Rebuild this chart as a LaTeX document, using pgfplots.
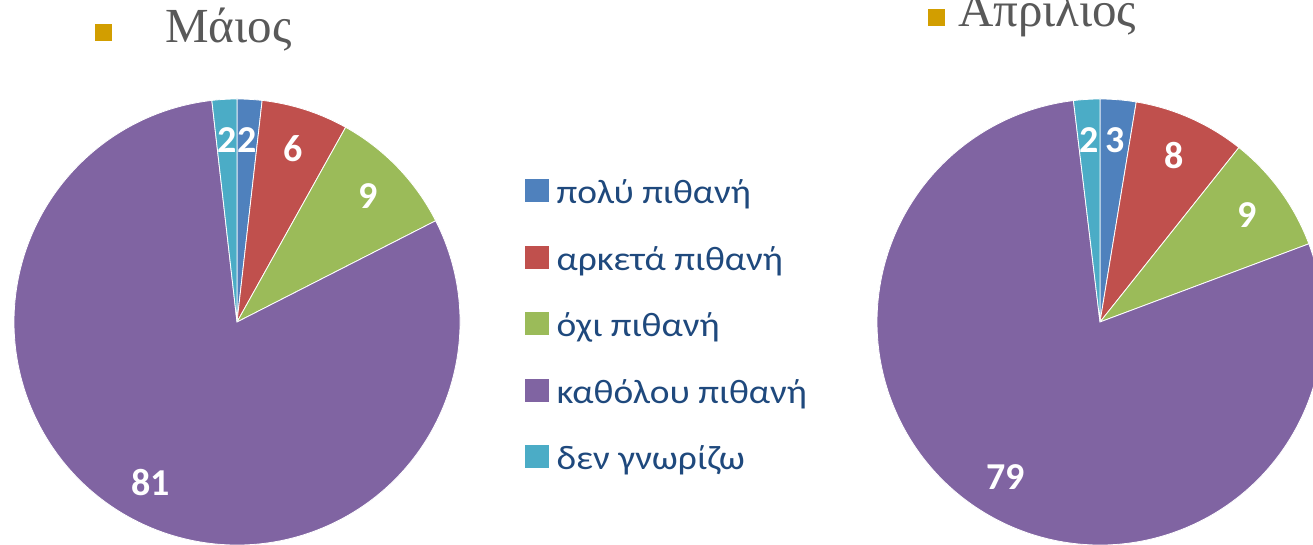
\documentclass[border=0pt]{standalone}
\usepackage{pgfplots}
\pgfplotsset{compat=1.18}
\usepackage{fontspec}
\setmainfont{Carlito}
\newfontfamily\legfont[FakeStretch=1.1]{Carlito}
\newfontfamily\titlefont{Liberation Serif}
\definecolor{pblue}{RGB}{79,129,189}
\definecolor{pred}{RGB}{192,80,77}
\definecolor{pgreen}{RGB}{155,187,89}
\definecolor{ppurple}{RGB}{128,100,162}
\definecolor{pcyan}{RGB}{75,172,198}
\definecolor{legtext}{RGB}{31,73,125}
\definecolor{titlegray}{RGB}{89,89,89}
\definecolor{gold}{RGB}{210,158,0}
% \slice{cx}{cy}{cumulative start}{share}{total}{colour}
\newcommand{\slice}[6]{%
  \fill[overlay,#6,draw=white,line width=0.8pt] (axis cs:#1,#2)
    -- ++(canvas polar cs:angle={90-#3/#5*360},radius=223pt)
    arc[start angle={90-#3/#5*360}, delta angle={-#4/#5*360}, radius=223pt] -- cycle;
}
% \slicelabel{cx}{cy}{cumulative start}{share}{total}{label}
\newcommand{\slicelabel}[6]{%
  \path[overlay] (axis cs:#1,#2) ++(canvas polar cs:angle={90-(#3+#4/2)/#5*360},radius=182pt)
    node[text=white,font=\fontsize{38}{42}\selectfont\bfseries] {#6};
}
\begin{document}
\begin{tikzpicture}
\begin{axis}[
  x=1pt, y=1pt, xmin=0, xmax=1313, ymin=0, ymax=545,
  scale only axis, hide axis, clip=true,
  legend cell align=left,
  legend style={draw=none, fill=none, inner sep=0pt, column sep=0pt, row sep=34.8pt,
    at={(0.39985,0.67156)}, anchor=north west,
    font=\legfont\fontsize{34}{38}\selectfont,
    text=legtext,
    nodes={inner sep=0pt, text height=20pt, text depth=7pt}},
]
\path (axis cs:0,0) rectangle (axis cs:1313,545);
% ---- Μάιος (left pie): 2, 6, 9, 81, 2 (%)
\slice{237}{223}{0}{1.8}{100}{pblue}
\slice{237}{223}{1.8}{6.3}{100}{pred}
\slice{237}{223}{8.1}{9.4}{100}{pgreen}
\slice{237}{223}{17.5}{80.7}{100}{ppurple}
\slice{237}{223}{98.2}{1.8}{100}{pcyan}
\slicelabel{237}{223}{0}{1.8}{100}{2}
\slicelabel{237}{223}{1.8}{6.3}{100}{6}
\slicelabel{237}{223}{8.1}{9.4}{100}{9}
\slicelabel{237}{223}{17.5}{80.7}{100}{81}
\slicelabel{237}{223}{98.2}{1.8}{100}{2}
% ---- Απρίλιος (right pie): 3, 8, 9, 79, 2 (%)
\slice{1100}{223}{0}{2.6}{100}{pblue}
\slice{1100}{223}{2.6}{8.1}{100}{pred}
\slice{1100}{223}{10.7}{8.6}{100}{pgreen}
\slice{1100}{223}{19.3}{78.8}{100}{ppurple}
\slice{1100}{223}{98.1}{1.9}{100}{pcyan}
\slicelabel{1100}{223}{0}{2.6}{100}{3}
\slicelabel{1100}{223}{2.6}{8.1}{100}{8}
\slicelabel{1100}{223}{10.7}{8.6}{100}{9}
\slicelabel{1100}{223}{19.3}{78.8}{100}{79}
\slicelabel{1100}{223}{98.1}{1.9}{100}{2}
% ---- titles
\fill[overlay,gold] (axis cs:95,504) rectangle (axis cs:112,521);
\node[overlay,anchor=base west, inner sep=0pt, text=titlegray, font=\titlefont\fontsize{49}{53}\selectfont] at (axis cs:165,502) {Μάιος};
\fill[overlay,gold] (axis cs:928,519) rectangle (axis cs:945,536);
\node[overlay,anchor=base west, inner sep=0pt, text=titlegray, font=\titlefont\fontsize{49}{53}\selectfont] at (axis cs:958,518) {Απρίλιος};
% ---- legend
\addlegendimage{legend image code/.code={\fill[pblue] (0pt,-4pt) rectangle (23pt,18pt); \path (31pt,0pt);}}
\addlegendentry{πολύ πιθανή}
\addlegendimage{legend image code/.code={\fill[pred] (0pt,-4pt) rectangle (23pt,18pt); \path (31pt,0pt);}}
\addlegendentry{αρκετά πιθανή}
\addlegendimage{legend image code/.code={\fill[pgreen] (0pt,-4pt) rectangle (23pt,18pt); \path (31pt,0pt);}}
\addlegendentry{όχι πιθανή}
\addlegendimage{legend image code/.code={\fill[ppurple] (0pt,-4pt) rectangle (23pt,18pt); \path (31pt,0pt);}}
\addlegendentry{καθόλου πιθανή}
\addlegendimage{legend image code/.code={\fill[pcyan] (0pt,-4pt) rectangle (23pt,18pt); \path (31pt,0pt);}}
\addlegendentry{δεν γνωρίζω}
\end{axis}
\end{tikzpicture}
\end{document}
